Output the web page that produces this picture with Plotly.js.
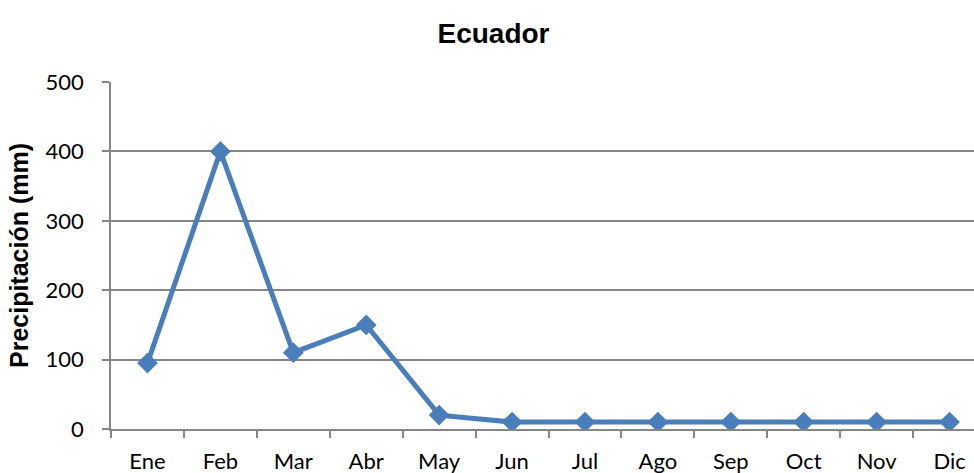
<!DOCTYPE html>
<html>
<head>
<meta charset="utf-8">
<script src="https://cdn.plot.ly/plotly-3.0.1.min.js"></script>
<style>
html,body{margin:0;padding:0;overflow:hidden;background:#fff;width:974px;height:473px;}
#chart{width:1000px;height:473px;}
</style>
</head>
<body>
<div id="chart"></div>
<script>
const months = ["Ene","Feb","Mar","Abr","May","Jun","Jul","Ago","Sep","Oct","Nov","Dic"];
const precipitacion = [95, 400, 110, 150, 20, 10, 10, 10, 10, 10, 10, 10];
const yTicks = [0, 100, 200, 300, 400, 500];
const chartTitle = "Ecuador";
const yTitle = "Precipitación (mm)";

const lineColor = "#4A7EBB";
const gridColor = "#868686";

const trace = {
  x: months,
  y: precipitacion,
  type: "scatter",
  mode: "lines+markers",
  line: {color: lineColor, width: 5},
  marker: {symbol: "diamond", size: 16, color: lineColor},
  hoverinfo: "x+y"
};

const layout = {
  width: 1000,
  height: 473,
  margin: {l: 111, r: 14, t: 82, b: 44, pad: 0},
  paper_bgcolor: "#ffffff",
  plot_bgcolor: "#ffffff",
  showlegend: false,
  font: {family: "Lato, 'Open Sans', sans-serif", size: 22, color: "#000"},
  title: {
    text: chartTitle,
    font: {family: "'Liberation Sans', Arial, sans-serif", size: 28, color: "#000", weight: "bold"},
    xref: "container", x: 0.4935, xanchor: "center",
    yref: "container", y: 0.930, yanchor: "middle"
  },
  xaxis: {
    type: "category",
    range: [-0.5, 11.5],
    tickson: "boundaries",
    ticks: "outside",
    ticklen: 7,
    tickwidth: 1.5,
    tickcolor: gridColor,
    showline: true,
    linecolor: gridColor,
    linewidth: 1.5,
    showgrid: false,
    zeroline: false,
    ticklabelstandoff: 12,
    tickfont: {family: "Lato, sans-serif", size: 22, color: "#000"},
    fixedrange: true
  },
  yaxis: {
    range: [0, 500],
    tickmode: "array",
    tickvals: yTicks,
    ticktext: yTicks.map(String),
    ticks: "outside",
    ticklen: 7,
    tickwidth: 1.5,
    tickcolor: gridColor,
    showline: true,
    linecolor: gridColor,
    linewidth: 1.5,
    showgrid: true,
    gridcolor: gridColor,
    gridwidth: 1.5,
    zeroline: false,
    ticklabelstandoff: 14,
    tickfont: {family: "Lato, sans-serif", size: 22, color: "#000"},
    title: {
      text: yTitle,
      font: {family: "'Liberation Sans', Arial, sans-serif", size: 25, color: "#000", weight: "bold"},
      standoff: 10
    },
    fixedrange: true
  }
};

Plotly.newPlot("chart", [trace], layout, {displayModeBar: false, staticPlot: false});
</script>
</body>
</html>
